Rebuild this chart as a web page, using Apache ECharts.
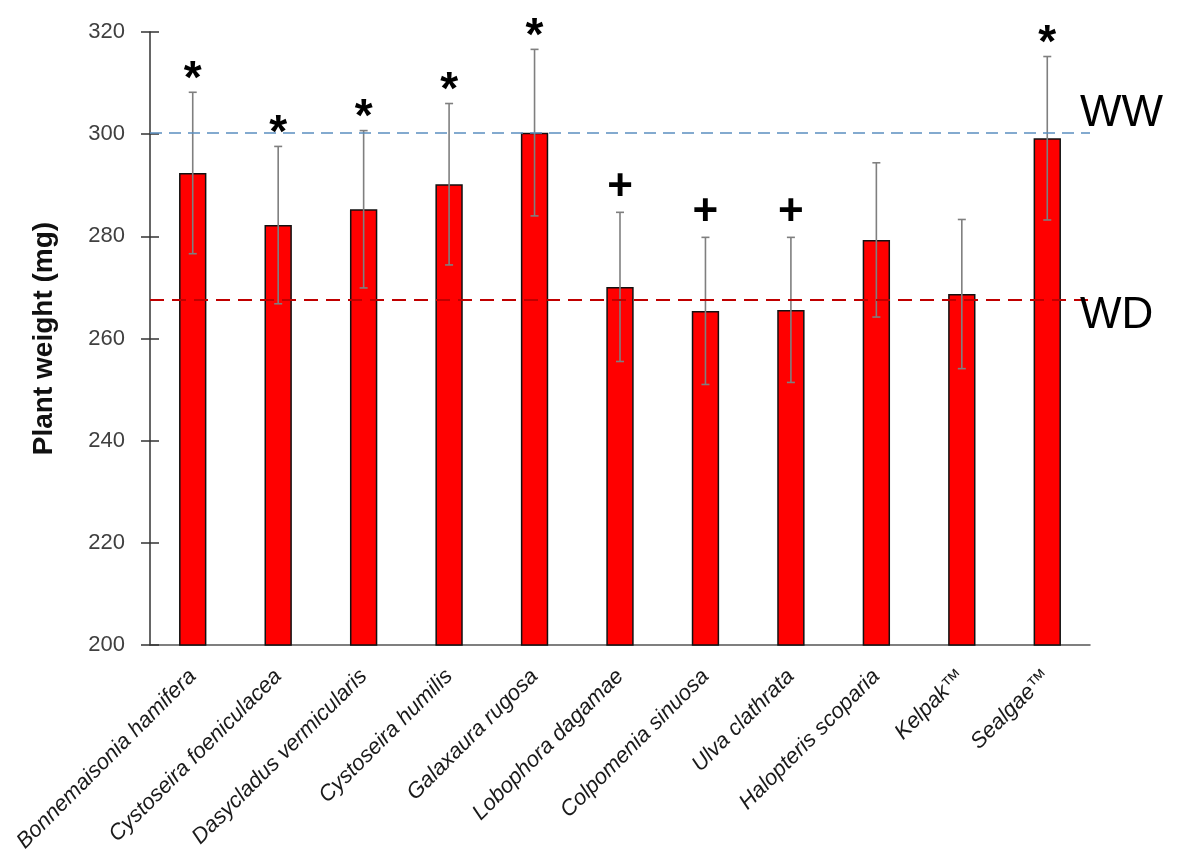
<!DOCTYPE html>
<html lang="en">
<head>
    <meta charset="UTF-8">
    <title>Plant weight</title>
    <script src="https://cdn.jsdelivr.net/npm/echarts@6/dist/echarts.min.js"></script>
</head>
<body style="margin:0;background:#fff;">

    <div id="main" style="width:1181px;height:863px;"></div>

    <script type="text/javascript">
        // data
        var categories = ['Bonnemaisonia hamifera', 'Cystoseira foeniculacea', 'Dasycladus vermicularis',
            'Cystoseira humilis', 'Galaxaura rugosa', 'Lobophora dagamae', 'Colpomenia sinuosa',
            'Ulva clathrata', 'Halopteris scoparia', 'Kelpak™', 'Sealgae™'];
        var means = [292.4, 282.2, 285.3, 290.2, 300.3, 270.1, 265.4, 265.6, 279.3, 268.7, 299.2];
        var errors = [15.8, 15.4, 15.4, 15.8, 16.3, 14.6, 14.4, 14.2, 15.1, 14.6, 16.0];
        var marks = ['*', '*', '*', '*', '*', '+', '+', '+', '', '', '*'];
        var wwLevel = 300.3;
        var wdLevel = 267.5;
        var yTicks = [200, 220, 240, 260, 280, 300, 320];

        var myChart = echarts.init(document.getElementById('main'));

        var errData = means.map(function (m, i) {
            return [i, m, errors[i]];
        });

        function renderErr(params, api) {
            var i = api.value(0);
            var m = api.value(1);
            var e = api.value(2);
            var mark = marks[i];
            var top = api.coord([i, m + e]);
            var bot = api.coord([i, m - e]);
            var cap = 4;
            var st = { stroke: '#7f7f7f', lineWidth: 1.6 };
            var children = [
                { type: 'line', shape: { x1: top[0], y1: top[1], x2: bot[0], y2: bot[1] }, style: st },
                { type: 'line', shape: { x1: top[0] - cap, y1: top[1], x2: top[0] + cap, y2: top[1] }, style: st },
                { type: 'line', shape: { x1: bot[0] - cap, y1: bot[1], x2: bot[0] + cap, y2: bot[1] }, style: st }
            ];
            if (mark) {
                var isStar = mark === '*';
                children.push({
                    type: 'text',
                    style: {
                        text: mark,
                        x: top[0],
                        y: top[1] - (isStar ? 12 : 24),
                        align: 'center',
                        verticalAlign: 'middle',
                        fill: '#000',
                        font: 'bold ' + (isStar ? 46 : 44) + 'px "Liberation Sans", Arial, sans-serif'
                    }
                });
            }
            return { type: 'group', children: children };
        }

        var option = {
            animation: false,
            grid: { left: 150, right: 91, top: 32, bottom: 218 },
            xAxis: {
                type: 'category',
                data: categories,
                axisLine: { lineStyle: { color: '#555', width: 1.5 } },
                axisTick: { show: false },
                axisLabel: {
                    rotate: 45,
                    margin: 28,
                    interval: 0,
                    fontStyle: 'italic',
                    fontSize: 22,
                    fontFamily: '"Liberation Sans", Arial, sans-serif',
                    color: '#1a1a1a'
                }
            },
            yAxis: [{
                type: 'value',
                min: 200,
                max: 320,
                interval: 20,
                name: 'Plant weight (mg)',
                nameLocation: 'middle',
                nameGap: 92,
                nameTextStyle: {
                    fontSize: 28,
                    fontWeight: 'bold',
                    color: '#111',
                    fontFamily: '"Liberation Sans", Arial, sans-serif'
                },
                axisLine: { show: true, lineStyle: { color: '#333', width: 1.5 } },
                axisTick: { show: true, length: 9, lineStyle: { color: '#333', width: 1.5 } },
                splitLine: { show: false },
                axisLabel: {
                    margin: 25,
                    fontSize: 22,
                    color: '#404040',
                    fontFamily: '"Liberation Sans", Arial, sans-serif',
                    formatter: function (v) { return yTicks.indexOf(v) >= 0 ? String(v) : ''; }
                }
            }, {
                // inner half of the crossing tick marks
                type: 'value',
                position: 'left',
                min: 200,
                max: 320,
                interval: 20,
                axisLine: { show: false },
                axisTick: { show: true, inside: true, length: 9, lineStyle: { color: '#333', width: 1.5 } },
                axisLabel: { show: false },
                splitLine: { show: false }
            }],
            series: [{
                type: 'line',
                data: [],
                z: 1,
                silent: true,
                markLine: {
                    symbol: 'none',
                    silent: true,
                    data: [{
                        yAxis: wwLevel,
                        lineStyle: { color: '#5b8fc0', type: [12, 7], width: 1.6 },
                        label: { formatter: 'WW', offset: [-10, -19] }
                    }, {
                        yAxis: wdLevel,
                        lineStyle: { color: '#c00000', type: [14, 8], width: 2 },
                        label: { formatter: 'WD', offset: [-10, 16] }
                    }],
                    label: {
                        position: 'end',
                        distance: 0,
                        fontSize: 44,
                        color: '#000',
                        fontFamily: '"Liberation Sans", Arial, sans-serif'
                    }
                }
            }, {
                type: 'bar',
                data: means,
                z: 2,
                barWidth: '32%',
                itemStyle: { color: '#ff0000', borderColor: '#111', borderWidth: 1.5 }
            }, {
                type: 'custom',
                data: errData,
                z: 3,
                renderItem: renderErr
            }]
        };

        myChart.setOption(option);
    </script>
</body>
</html>
